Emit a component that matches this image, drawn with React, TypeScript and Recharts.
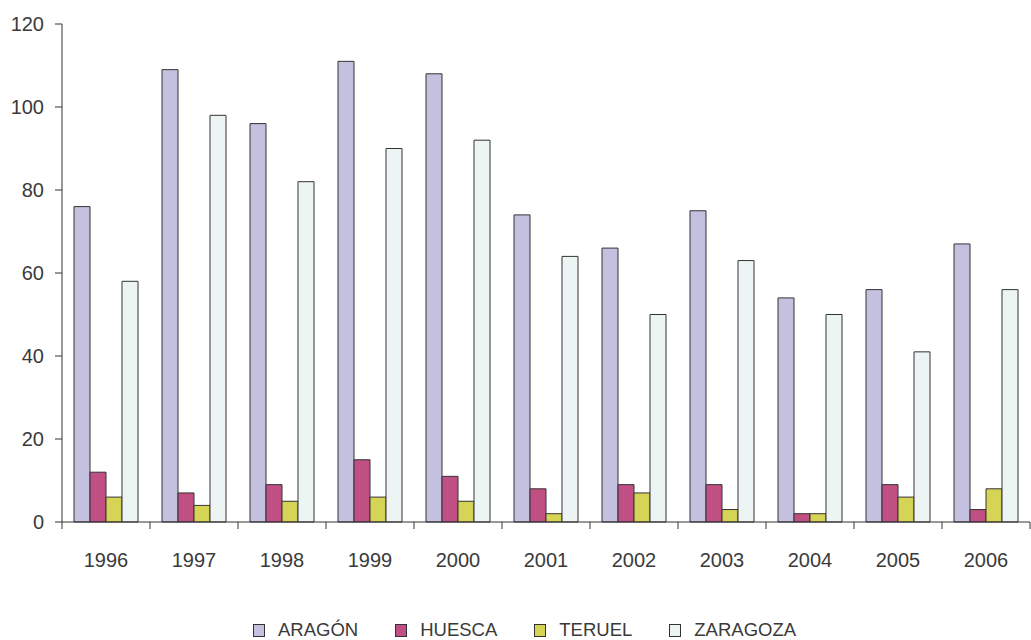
import React from 'react';
import { BarChart, Bar, XAxis, YAxis, Legend } from 'recharts';

const years = ['1996', '1997', '1998', '1999', '2000', '2001', '2002', '2003', '2004', '2005', '2006'];
const aragon = [76, 109, 96, 111, 108, 74, 66, 75, 54, 56, 67];
const huesca = [12, 7, 9, 15, 11, 8, 9, 9, 2, 9, 3];
const teruel = [6, 4, 5, 6, 5, 2, 7, 3, 2, 6, 8];
const zaragoza = [58, 98, 82, 90, 92, 64, 50, 63, 50, 41, 56];
const yTicks = [0, 20, 40, 60, 80, 100, 120];

const series = [
  { key: 'aragon', name: 'ARAGÓN', color: '#c4c0df' },
  { key: 'huesca', name: 'HUESCA', color: '#c05083' },
  { key: 'teruel', name: 'TERUEL', color: '#d6d455' },
  { key: 'zaragoza', name: 'ZARAGOZA', color: '#ecf5f3' },
];

const data = years.map((year, i) => ({
  year,
  aragon: aragon[i],
  huesca: huesca[i],
  teruel: teruel[i],
  zaragoza: zaragoza[i],
}));

const FONT = '"Liberation Sans", Arial, sans-serif';
const TEXT = '#3a3a3a';
const LINE = '#333333';
const TICK = 7;

// Category label plus a tick mark on the left boundary of each band
// (and the right boundary for the last band).
const YearTick = (props: any) => {
  const { x, y, payload, index, visibleTicksCount } = props;
  const step = props.width / years.length;
  const top = y - TICK;
  return (
    <g>
      <line x1={x - step / 2} x2={x - step / 2} y1={top} y2={y} stroke={LINE} strokeWidth={1} />
      {index === visibleTicksCount - 1 && (
        <line x1={x + step / 2} x2={x + step / 2} y1={top} y2={y} stroke={LINE} strokeWidth={1} />
      )}
      <text x={x} y={y + 38} textAnchor="middle" fill={TEXT} fontSize={20} fontFamily={FONT}>
        {payload.value}
      </text>
    </g>
  );
};

const LegendContent = () => (
  <div
    style={{
      display: 'flex',
      justifyContent: 'flex-start',
      alignItems: 'center',
      height: 58,
      paddingTop: 38,
      paddingLeft: 253,
      boxSizing: 'border-box',
      fontFamily: FONT,
      fontSize: 18.5,
      color: TEXT,
    }}
  >
    {series.map((s, i) => (
      <div key={s.key} style={{ display: 'flex', alignItems: 'center', marginLeft: i === 0 ? 0 : 37 }}>
        <span
          style={{
            display: 'inline-block',
            width: 10,
            height: 11,
            background: s.color,
            border: `1px solid ${LINE}`,
            marginRight: 13,
          }}
        />
        <span style={{ lineHeight: '20px' }}>{s.name}</span>
      </div>
    ))}
  </div>
);

export default function App() {
  return (
    <div style={{ position: 'absolute', left: 0, top: 0, background: '#fff' }}>
      <BarChart
        width={1031}
        height={640}
        data={data}
        margin={{ top: 24, right: 1, left: 0, bottom: 0 }}
        barCategoryGap={12}
        barGap={0}
      >
        <XAxis
          dataKey="year"
          height={60}
          axisLine={{ stroke: LINE }}
          tickLine={false}
          tickSize={TICK}
          tickMargin={0}
          interval={0}
          tick={<YearTick />}
        />
        <YAxis
          width={62}
          domain={[0, 120]}
          ticks={yTicks}
          interval={0}
          axisLine={{ stroke: LINE }}
          tickLine={{ stroke: LINE }}
          tickSize={TICK}
          tickMargin={11}
          tick={{ fill: TEXT, fontSize: 20, fontFamily: FONT }}
        />
        <Legend verticalAlign="bottom" height={58} content={<LegendContent />} />
        {series.map((s) => (
          <Bar
            key={s.key}
            dataKey={s.key}
            name={s.name}
            fill={s.color}
            stroke={LINE}
            strokeWidth={1}
            isAnimationActive={false}
          />
        ))}
      </BarChart>
    </div>
  );
}
